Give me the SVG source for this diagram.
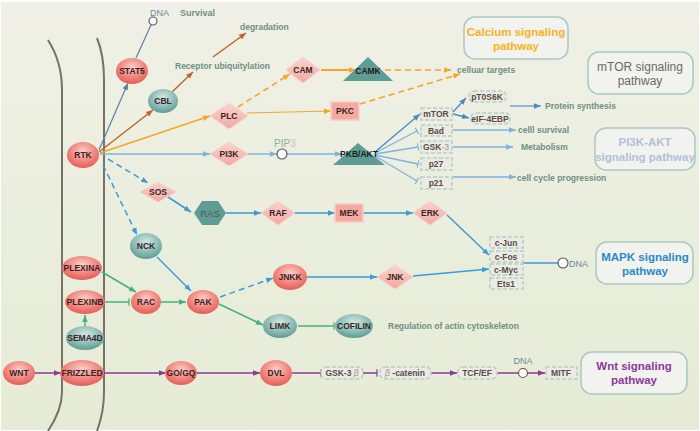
<svg xmlns="http://www.w3.org/2000/svg" width="700" height="431" viewBox="0 0 700 431">
<defs>
<linearGradient id="bg" x1="0" y1="0" x2="0" y2="1"><stop offset="0" stop-color="#f0f0e6"/><stop offset="1" stop-color="#e5ecd5"/></linearGradient>
<radialGradient id="gred" cx="0.5" cy="0.35" r="0.65"><stop offset="0" stop-color="#fbcfc8"/><stop offset="0.6" stop-color="#f0857d"/><stop offset="1" stop-color="#e45e57"/></radialGradient>
<radialGradient id="gteal" cx="0.5" cy="0.35" r="0.65"><stop offset="0" stop-color="#d3e8e4"/><stop offset="0.6" stop-color="#8dbdb6"/><stop offset="1" stop-color="#5f9b93"/></radialGradient>
<linearGradient id="gdia" x1="0" y1="0" x2="0" y2="1"><stop offset="0" stop-color="#fbd3cd"/><stop offset="1" stop-color="#f2a9a1"/></linearGradient>
<marker id="a-or" viewBox="0 0 10 10" refX="10" refY="5" markerWidth="7" markerHeight="7" markerUnits="userSpaceOnUse" orient="auto"><path d="M0,1 L10,5 L0,9 z" fill="#f5a623"/></marker>
<marker id="a-br" viewBox="0 0 10 10" refX="10" refY="5" markerWidth="7" markerHeight="7" markerUnits="userSpaceOnUse" orient="auto"><path d="M0,1 L10,5 L0,9 z" fill="#c0622a"/></marker>
<marker id="a-st" viewBox="0 0 10 10" refX="10" refY="5" markerWidth="7" markerHeight="7" markerUnits="userSpaceOnUse" orient="auto"><path d="M0,1 L10,5 L0,9 z" fill="#5b80a8"/></marker>
<marker id="a-lb" viewBox="0 0 10 10" refX="10" refY="5" markerWidth="7" markerHeight="7" markerUnits="userSpaceOnUse" orient="auto"><path d="M0,1 L10,5 L0,9 z" fill="#7fb2de"/></marker>
<marker id="a-db" viewBox="0 0 10 10" refX="10" refY="5" markerWidth="7" markerHeight="7" markerUnits="userSpaceOnUse" orient="auto"><path d="M0,1 L10,5 L0,9 z" fill="#4a8ac8"/></marker>
<marker id="a-bl" viewBox="0 0 10 10" refX="10" refY="5" markerWidth="7" markerHeight="7" markerUnits="userSpaceOnUse" orient="auto"><path d="M0,1 L10,5 L0,9 z" fill="#3d9ad6"/></marker>
<marker id="a-gr" viewBox="0 0 10 10" refX="10" refY="5" markerWidth="7" markerHeight="7" markerUnits="userSpaceOnUse" orient="auto"><path d="M0,1 L10,5 L0,9 z" fill="#45b07c"/></marker>
<marker id="a-pu" viewBox="0 0 10 10" refX="10" refY="5" markerWidth="7" markerHeight="7" markerUnits="userSpaceOnUse" orient="auto"><path d="M0,1 L10,5 L0,9 z" fill="#8a3a98"/></marker>
<marker id="t-lb" viewBox="0 0 4 10" refX="2" refY="5" markerWidth="3" markerHeight="8" markerUnits="userSpaceOnUse" orient="auto"><path d="M2,0 L2,10" stroke="#7fb2de" stroke-width="1.6"/></marker>
<marker id="t-gr" viewBox="0 0 4 10" refX="2" refY="5" markerWidth="3" markerHeight="9" markerUnits="userSpaceOnUse" orient="auto"><path d="M2,0 L2,10" stroke="#45b07c" stroke-width="1.6"/></marker>
<marker id="t-pu" viewBox="0 0 4 10" refX="2" refY="5" markerWidth="3" markerHeight="9" markerUnits="userSpaceOnUse" orient="auto"><path d="M2,0 L2,10" stroke="#8a3a98" stroke-width="1.6"/></marker>
</defs>
<style>
text{font-family:"Liberation Sans",Arial,sans-serif;}
.nt{font-size:8.5px;font-weight:bold;fill:#3a2626;text-anchor:middle;dominant-baseline:central;}
.lab{font-size:8.5px;font-weight:bold;fill:#6f8f86;dominant-baseline:central;}
.bx{font-size:8.5px;font-weight:bold;fill:#5a4c4a;text-anchor:middle;dominant-baseline:central;}
.pw{font-size:11.5px;font-weight:bold;text-anchor:middle;dominant-baseline:central;}
.red{fill:url(#gred);}
.teal{fill:url(#gteal);}
.dia{fill:url(#gdia);stroke:#f8cfc8;stroke-width:0.8;}
.rct{fill:#f4a9a1;stroke:#f8cdc6;stroke-width:1.5;}
.tri{fill:#5f9c94;}
.dash{fill:#ebebe4;stroke:#b5cfc7;stroke-width:1.5;stroke-dasharray:4,2;}
.pbox{fill:#f2f2ee;stroke:#a9c9c1;stroke-width:1.5;}
.mem{fill:none;stroke:#7a706a;stroke-width:2;}
.c{fill:none;}
.or{stroke:#f5a623;stroke-width:1.6;}
.br{stroke:#c0622a;stroke-width:1.4;}
.st{stroke:#5b80a8;stroke-width:1.2;}
.lb{stroke:#7fb2de;stroke-width:1.4;}
.db{stroke:#4a8ac8;stroke-width:1.4;}
.bl{stroke:#3d9ad6;stroke-width:1.5;}
.gr{stroke:#45b07c;stroke-width:1.5;}
.pu{stroke:#8a3a98;stroke-width:1.5;}
.dsh{stroke-dasharray:6,4;}
.circ{fill:#fafafa;stroke:#555;stroke-width:1.1;}
</style>
<rect x="0" y="0" width="700" height="431" fill="#ffffff"/>
<rect x="1" y="2" width="698" height="428" fill="url(#bg)"/>
<g id="membrane">
<path class="mem" d="M48,40 Q62,62 62,90 L62,392 Q62,410 48,431"/>
<path class="mem" d="M97,38 Q104,55 104,80 L104,392 Q104,412 97,431"/>
</g>
<g id="connectors">
<line class="c st" x1="99" y1="150" x2="128" y2="83" marker-end="url(#a-st)"/>
<line class="c st" x1="136" y1="58" x2="151" y2="25"/>
<line class="c br" x1="99" y1="152" x2="153" y2="110" marker-end="url(#a-br)"/>
<line class="c br" x1="172" y1="92" x2="193" y2="72" marker-end="url(#a-br)"/>
<line class="c br" x1="213" y1="57" x2="246" y2="33" marker-end="url(#a-br)"/>
<line class="c or" x1="100" y1="153" x2="210" y2="116" marker-end="url(#a-or)"/>
<line class="c or dsh" x1="238" y1="107" x2="290" y2="74" marker-end="url(#a-or)"/>
<line class="c or" style="stroke-width:2" x1="321" y1="70" x2="356" y2="70" marker-end="url(#a-or)"/>
<line class="c or dsh" x1="385" y1="70" x2="451" y2="70" marker-end="url(#a-or)"/>
<line class="c or" style="stroke-width:1" x1="247" y1="113" x2="331" y2="111" marker-end="url(#a-or)"/>
<line class="c or dsh" x1="360" y1="104" x2="460" y2="74" marker-end="url(#a-or)"/>
<line class="c lb" x1="100" y1="154" x2="210" y2="154" marker-end="url(#a-lb)"/>
<line class="c lb" x1="248" y1="154" x2="277" y2="154" marker-end="url(#a-lb)"/>
<line class="c lb" x1="287" y1="154" x2="342" y2="154" marker-end="url(#a-lb)"/>
<line class="c db" x1="375" y1="152" x2="420" y2="114" marker-end="url(#a-db)"/>
<line class="c lb" x1="375" y1="153" x2="417" y2="131" marker-end="url(#t-lb)"/>
<line class="c lb" x1="375" y1="154" x2="418" y2="147" marker-end="url(#t-lb)"/>
<line class="c lb" x1="375" y1="155" x2="418" y2="164" marker-end="url(#t-lb)"/>
<line class="c lb" x1="375" y1="156" x2="417" y2="181" marker-end="url(#t-lb)"/>
<line class="c db" x1="453" y1="112" x2="466" y2="98" marker-end="url(#a-db)"/>
<line class="c db" x1="453" y1="114" x2="469" y2="118" marker-end="url(#a-db)"/>
<line class="c db" style="stroke:#6a9fd0" x1="510" y1="106" x2="541" y2="106" marker-end="url(#a-db)"/>
<line class="c lb" x1="453" y1="130" x2="516" y2="130" marker-end="url(#a-lb)"/>
<line class="c lb" x1="453" y1="147" x2="513" y2="147" marker-end="url(#a-lb)"/>
<line class="c lb" x1="453" y1="177" x2="516" y2="177" marker-end="url(#a-lb)"/>
<line class="c bl dsh" x1="108" y1="159" x2="148" y2="183" marker-end="url(#a-bl)"/>
<line class="c bl" x1="168" y1="197" x2="191" y2="212" marker-end="url(#a-bl)"/>
<line class="c bl" x1="226" y1="213" x2="261" y2="213" marker-end="url(#a-bl)"/>
<line class="c bl" x1="295" y1="213" x2="335" y2="213" marker-end="url(#a-bl)"/>
<line class="c bl" x1="363" y1="213" x2="413" y2="213" marker-end="url(#a-bl)"/>
<line class="c bl" x1="447" y1="215" x2="489" y2="255" marker-end="url(#a-bl)"/>
<line class="c bl" x1="413" y1="276" x2="489" y2="269" marker-end="url(#a-bl)"/>
<line class="c bl" x1="523" y1="263" x2="558" y2="263"/>
<line class="c bl dsh" x1="103" y1="165" x2="137" y2="235" marker-end="url(#a-bl)"/>
<line class="c bl" x1="157" y1="257" x2="191" y2="291" marker-end="url(#a-bl)"/>
<line class="c bl dsh" x1="220" y1="297" x2="273" y2="278" marker-end="url(#a-bl)"/>
<line class="c bl" x1="307" y1="277" x2="377" y2="277" marker-end="url(#a-bl)"/>
<line class="c gr" x1="102" y1="272" x2="136" y2="292" marker-end="url(#a-gr)"/>
<line class="c gr" x1="105" y1="302" x2="129" y2="302" marker-end="url(#t-gr)"/>
<line class="c gr" x1="161" y1="302" x2="186" y2="302" marker-end="url(#a-gr)"/>
<line class="c gr" x1="85" y1="326" x2="85" y2="315" marker-end="url(#a-gr)"/>
<line class="c gr" x1="219" y1="304" x2="263" y2="325" marker-end="url(#a-gr)"/>
<line class="c gr" x1="298" y1="326" x2="334" y2="326" marker-end="url(#t-gr)"/>
<line class="c pu" x1="35" y1="373" x2="61" y2="373" marker-end="url(#a-pu)"/>
<line class="c pu" x1="104" y1="373" x2="166" y2="373" marker-end="url(#a-pu)"/>
<line class="c pu" x1="197" y1="373" x2="260" y2="373" marker-end="url(#a-pu)"/>
<line class="c pu" x1="292" y1="373" x2="321" y2="373" marker-end="url(#t-pu)"/>
<line class="c pu" x1="363" y1="373" x2="377" y2="373" marker-end="url(#t-pu)"/>
<line class="c pu" x1="431" y1="373" x2="457" y2="373" marker-end="url(#a-pu)"/>
<line class="c pu" x1="497" y1="373" x2="519" y2="373"/>
<line class="c pu" x1="527" y1="373" x2="545" y2="373" marker-end="url(#a-pu)"/>
<circle class="circ" cx="153" cy="21" r="4"/>
<circle class="circ" cx="282" cy="154" r="5"/>
<circle class="circ" cx="563" cy="263" r="5"/>
<circle class="circ" cx="523" cy="373" r="4.5"/>
</g>
<g id="labels">
<text class="lab" x="150" y="13" style="fill:#6b8aa0;font-weight:normal;font-size:9px">DNA</text>
<text class="lab" x="180" y="13" style="font-size:9px">Survival</text>
<text class="lab" x="175" y="66">Receptor ubiquitylation</text>
<text class="lab" x="240" y="27">degradation</text>
<text class="lab" x="457" y="70">celluar targets</text>
<text x="274" y="143" style="font-size:10px;fill:#8cb0a2;dominant-baseline:central">PIP<tspan style="fill:#b5cac2">3</tspan></text>
<text class="lab" x="545" y="106">Protein synthesis</text>
<text class="lab" x="518" y="130">celll survival</text>
<text class="lab" x="521" y="147">Metabolism</text>
<text class="lab" x="517" y="178">cell cycle progression</text>
<text class="lab" x="569" y="264" style="fill:#6b8aa0;font-weight:normal;font-size:9px">DNA</text>
<text class="lab" x="388" y="326">Regulation of actin cytoskeleton</text>
<text class="lab" x="523" y="361" style="text-anchor:middle;fill:#6b8aa0;font-weight:normal;font-size:9px">DNA</text>
</g>
<g id="pw-calcium"><rect class="pbox" x="464" y="17" width="104" height="42" rx="11"/><text class="pw" x="516" y="32" fill="#f5b324">Calcium signaling</text><text class="pw" x="516" y="46" fill="#f5b324">pathway</text></g>
<g id="pw-mtor"><rect class="pbox" x="588" y="52" width="105" height="42" rx="11"/><text class="pw" x="640" y="67" fill="#6a6a6a" style="font-weight:normal;font-size:12px">mTOR signaling</text><text class="pw" x="640" y="81" fill="#6a6a6a" style="font-weight:normal;font-size:12px">pathway</text></g>
<g id="pw-pi3k"><rect class="pbox" x="595" y="128" width="100" height="42" rx="11"/><text class="pw" x="645" y="142" fill="#b2bfdb">PI3K-AKT</text><text class="pw" x="645" y="157" fill="#b2bfdb">signaling pathway</text></g>
<g id="pw-mapk"><rect class="pbox" x="596" y="242" width="97" height="42" rx="11"/><text class="pw" x="645" y="257" fill="#2a8ac8">MAPK signaling</text><text class="pw" x="645" y="271" fill="#2a8ac8">pathway</text></g>
<g id="pw-wnt"><rect class="pbox" x="581" y="352" width="106" height="42" rx="11"/><text class="pw" x="634" y="366" fill="#8a3a9a">Wnt signaling</text><text class="pw" x="634" y="380" fill="#8a3a9a">pathway</text></g>
<g id="n-stat5"><ellipse class="red" cx="132" cy="71" rx="16" ry="13"/><text class="nt" x="132" y="71">STAT5</text></g>
<g id="n-cbl"><ellipse class="teal" cx="163" cy="101" rx="15" ry="12"/><text class="nt" x="163" y="101">CBL</text></g>
<g id="n-rtk"><ellipse class="red" cx="83" cy="155" rx="16" ry="13"/><text class="nt" x="83" y="155">RTK</text></g>
<g id="n-plc"><path class="dia" d="M210,116 L229,103 L248,116 L229,129 z"/><text class="nt" x="229" y="116">PLC</text></g>
<g id="n-cam"><path class="dia" d="M286,70 L303,57 L320,70 L303,83 z"/><text class="nt" x="303" y="70">CAM</text></g>
<g id="n-camk"><path class="tri" d="M368,57 L393,81 L343,81 z"/><text class="nt" x="368" y="71" style="fill:#1e1e1e">CAMK</text></g>
<g id="n-pkc"><rect class="rct" x="331" y="102" width="28" height="18"/><text class="nt" x="345" y="111">PKC</text></g>
<g id="n-pi3k"><path class="dia" d="M210,154 L229,142 L248,154 L229,166 z"/><text class="nt" x="229" y="154">PI3K</text></g>
<g id="n-pkbakt"><path class="tri" d="M358,143 L385,165 L333,165 z"/><text class="nt" x="359" y="154" style="fill:#1e1e1e">PKB/AKT</text></g>
<g id="n-mtor"><rect class="dash" x="421" y="108" width="31" height="12"/><text class="bx" x="436" y="114">mTOR</text></g>
<g id="n-bad"><rect class="dash" x="421" y="125" width="31" height="11"/><text class="bx" x="436" y="131">Bad</text></g>
<g id="n-gsk3"><rect class="dash" x="421" y="141" width="31" height="12"/><text class="bx" x="436" y="147">GSK<tspan style="fill:#9a9a9a;font-weight:normal">-3</tspan></text></g>
<g id="n-p27"><rect class="dash" x="421" y="158" width="31" height="12"/><text class="bx" x="436" y="164">p27</text></g>
<g id="n-p21"><rect class="dash" x="421" y="177" width="31" height="12"/><text class="bx" x="436" y="183">p21</text></g>
<g id="n-pt0s6k"><rect class="dash" x="469" y="91" width="37" height="11" rx="5"/><text class="bx" x="487" y="96.5">pT0S6K</text></g>
<g id="n-eif4ebp"><rect class="dash" x="471" y="113" width="39" height="11" rx="5"/><text class="bx" x="490" y="118.5">eIF-4EBP</text></g>
<g id="n-sos"><path class="dia" d="M140,192 L158,182 L176,192 L158,202 z"/><text class="nt" x="158" y="192">SOS</text></g>
<g id="n-ras"><path class="tri" d="M194,213 L202,201 L218,201 L226,213 L218,225 L202,225 z"/><text class="nt" x="210" y="213" style="fill:#4e5a58;font-weight:normal;font-size:9.5px">RAS</text></g>
<g id="n-raf"><path class="dia" d="M261,213 L278,201 L295,213 L278,225 z"/><text class="nt" x="278" y="213">RAF</text></g>
<g id="n-mek"><rect class="rct" x="335" y="204" width="28" height="18"/><text class="nt" x="349" y="213">MEK</text></g>
<g id="n-erk"><path class="dia" d="M413,213 L430,201 L447,213 L430,225 z"/><text class="nt" x="430" y="213">ERK</text></g>
<g id="n-cjun"><rect class="dash" x="490" y="237" width="33" height="11"/><text class="bx" x="506" y="243">c-Jun</text></g>
<g id="n-cfos"><rect class="dash" x="490" y="251" width="33" height="11"/><text class="bx" x="506" y="256.5">c-Fos</text></g>
<g id="n-cmyc"><rect class="dash" x="490" y="264" width="33" height="11"/><text class="bx" x="506" y="270">c-Myc</text></g>
<g id="n-ets1"><rect class="dash" x="490" y="278" width="33" height="11"/><text class="bx" x="506" y="284">Ets1</text></g>
<g id="n-nck"><ellipse class="teal" cx="146" cy="246" rx="16" ry="13"/><text class="nt" x="146" y="246">NCK</text></g>
<g id="n-plexina"><ellipse class="red" cx="82" cy="268" rx="20" ry="12"/><text class="nt" x="82" y="268">PLEXINA</text></g>
<g id="n-plexinb"><ellipse class="red" cx="85" cy="302" rx="20" ry="12"/><text class="nt" x="85" y="302">PLEXINB</text></g>
<g id="n-sema4d"><ellipse class="teal" cx="85" cy="338" rx="19" ry="12"/><text class="nt" x="85" y="338">SEMA4D</text></g>
<g id="n-rac"><ellipse class="red" cx="146" cy="302" rx="15" ry="12"/><text class="nt" x="146" y="302">RAC</text></g>
<g id="n-pak"><ellipse class="red" cx="203" cy="302" rx="16" ry="12"/><text class="nt" x="203" y="302">PAK</text></g>
<g id="n-jnkk"><ellipse class="red" cx="290" cy="277" rx="17" ry="13"/><text class="nt" x="290" y="277">JNKK</text></g>
<g id="n-jnk"><path class="dia" d="M377,277 L395,265 L413,277 L395,289 z"/><text class="nt" x="395" y="277">JNK</text></g>
<g id="n-limk"><ellipse class="teal" cx="280" cy="326" rx="17" ry="12"/><text class="nt" x="280" y="326">LIMK</text></g>
<g id="n-cofilin"><ellipse class="teal" cx="354" cy="326" rx="19" ry="12"/><text class="nt" x="354" y="326">COFILIN</text></g>
<g id="n-wnt"><ellipse class="red" cx="19" cy="373" rx="16" ry="12"/><text class="nt" x="19" y="373">WNT</text></g>
<g id="n-frizzled"><ellipse class="red" cx="82" cy="373" rx="22" ry="13"/><text class="nt" x="82" y="373">FRIZZLED</text></g>
<g id="n-gogq"><ellipse class="red" cx="181" cy="373" rx="16" ry="12"/><text class="nt" x="181" y="373">GO/GQ</text></g>
<g id="n-dvl"><ellipse class="red" cx="276" cy="373" rx="16" ry="13"/><text class="nt" x="276" y="373">DVL</text></g>
<g id="n-gsk3b"><rect class="dash" x="321" y="367" width="42" height="12" rx="5"/><text class="bx" x="342" y="373">GSK-3 <tspan style="fill:#9a9a9a;font-style:italic;font-weight:normal">β</tspan></text></g>
<g id="n-bcatenin"><rect class="dash" x="380" y="367" width="51" height="12" rx="5"/><text class="bx" x="405" y="373"><tspan style="fill:#9a9a9a;font-style:italic;font-weight:normal">β</tspan> -catenin</text></g>
<g id="n-tcfef"><rect class="dash" x="458" y="367" width="39" height="12" rx="5"/><text class="bx" x="477" y="373">TCF/EF</text></g>
<g id="n-mitf"><rect class="dash" x="546" y="367" width="31" height="12"/><text class="bx" x="561" y="373">MITF</text></g>
</svg>
